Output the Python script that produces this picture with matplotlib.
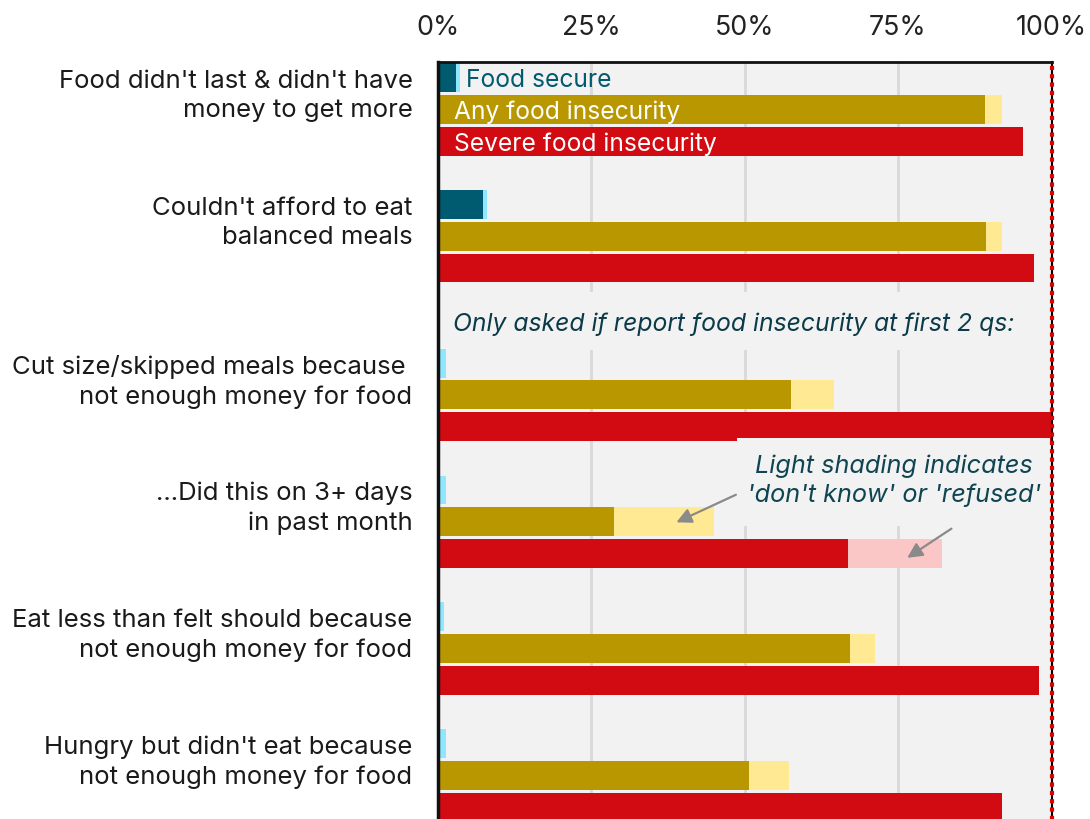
import matplotlib
matplotlib.use("Agg")
import matplotlib.pyplot as plt
from matplotlib.patches import Rectangle

plt.rcParams['font.family'] = ['Inter', 'DejaVu Sans']

questions = [
    "Food didn't last & didn't have\nmoney to get more",
    "Couldn't afford to eat\nbalanced meals",
    "Cut size/skipped meals because \nnot enough money for food",
    "...Did this on 3+ days\nin past month",
    "Eat less than felt should because\nnot enough money for food",
    "Hungry but didn't eat because\nnot enough money for food",
]
series = ["Food secure", "Any food insecurity", "Severe food insecurity"]
secure_solid = [3.0, 7.4, 0.0, 0.0, 0.0, 0.0]
secure_dk = [0.7, 0.6, 1.4, 1.3, 1.1, 1.4]
any_solid = [89.1, 89.4, 57.6, 28.8, 67.1, 50.7]
any_dk = [2.8, 2.5, 6.9, 16.3, 4.2, 6.6]
severe_solid = [95.3, 97.1, 100.0, 66.9, 97.9, 92.0]
severe_dk = [0.0, 0.0, 0.0, 15.3, 0.0, 0.0]
xticks = [0, 25, 50, 75, 100]
xticklabels = ["0%", "25%", "50%", "75%", "100%"]

# group start rows (extra gap before the "only asked" note)
group_rows = [0, 4, 9, 13, 17, 21]

dark_cols = ["#005a70", "#b99700", "#d20b12"]
light_cols = ["#8ee6ff", "#ffe993", "#fbc6c6"]

fig = plt.figure(figsize=(10.9, 8.19), dpi=100)
ax = fig.add_axes([0.4014, -0.0047, 0.5633, 0.929])
ax.set_facecolor("#f2f2f2")
ax.set_xlim(0, 100)
ax.set_ylim(23.5, -0.5)

for x in [25, 50, 75]:
    ax.axvline(x, color="#d9d9d9", lw=2, zorder=1)

bh = 0.91
for s, (solid, dk) in enumerate([(secure_solid, secure_dk), (any_solid, any_dk),
                                   (severe_solid, severe_dk)]):
    ys = [g + s for g in group_rows]
    ax.barh(ys, solid, height=bh, color=dark_cols[s], zorder=3)
    ax.barh(ys, dk, left=solid, height=bh, color=light_cols[s], zorder=3)

# series labels inside first group
ax.text(4.7, group_rows[0] + 0.08, series[0], color="#005a70", fontsize=17.7,
        va="center", ha="left", zorder=6)
ax.text(2.7, group_rows[0] + 1.08, series[1], color="white", fontsize=17.7,
        va="center", ha="left", zorder=6)
ax.text(2.7, group_rows[0] + 2.08, series[2], color="white", fontsize=17.7,
        va="center", ha="left", zorder=6)

# note about first 2 questions
ax.add_patch(Rectangle((0.3, 6.75), 99.4, 1.83, facecolor="#f2f2f2",
                       edgecolor="none", zorder=2))
ax.text(2.6, 7.78, "Only asked if report food insecurity at first 2 qs:",
        fontsize=17.8, style="italic", color="#0b3a48", va="center", ha="left",
        zorder=6)

# light shading note
ax.add_patch(Rectangle((48.8, 11.35), 50.9, 2.78, facecolor="#f2f2f2",
                       edgecolor="none", zorder=4))
ax.text(74.3, 12.72, "Light shading indicates\n'don't know' or 'refused'",
        fontsize=18.2, style="italic", color="#0f4452", va="center", ha="center",
        linespacing=1.3, zorder=6)
arrow = dict(arrowstyle="-|>,head_length=0.9,head_width=0.45", color="#8a8a8a",
             lw=1.6, shrinkA=0, shrinkB=0)
ax.annotate("", xy=(38.9, 14.02), xytext=(48.6, 13.15), arrowprops=arrow, zorder=6)
ax.annotate("", xy=(76.5, 15.14), xytext=(83.7, 14.22), arrowprops=arrow, zorder=6)

# 100% reference line
ax.axvline(100, color="black", lw=1.5, zorder=7, clip_on=False)
ax.axvline(100, color="#e00000", lw=3, ls=(0, (1, 1)), zorder=8, clip_on=False)

ax.xaxis.tick_top()
ax.set_xticks(xticks)
ax.set_xticklabels(xticklabels, fontsize=19.3, color="#222222")
ax.tick_params(axis="x", length=0, pad=15)
ax.set_yticks([g + 0.4 for g in group_rows])
ax.set_yticklabels(questions, fontsize=18.5, color="#1a1a1a", linespacing=1.35)
ax.tick_params(axis="y", length=0, pad=18)

for sp in ["bottom"]:
    ax.spines[sp].set_visible(False)
ax.spines["left"].set_linewidth(2.5)
ax.spines["top"].set_linewidth(2)
ax.spines["right"].set_visible(False)
for sp in ["left", "top"]:
    ax.spines[sp].set_color("#111111")
    ax.spines[sp].set_zorder(9)

fig.savefig("out.png", dpi=100)
